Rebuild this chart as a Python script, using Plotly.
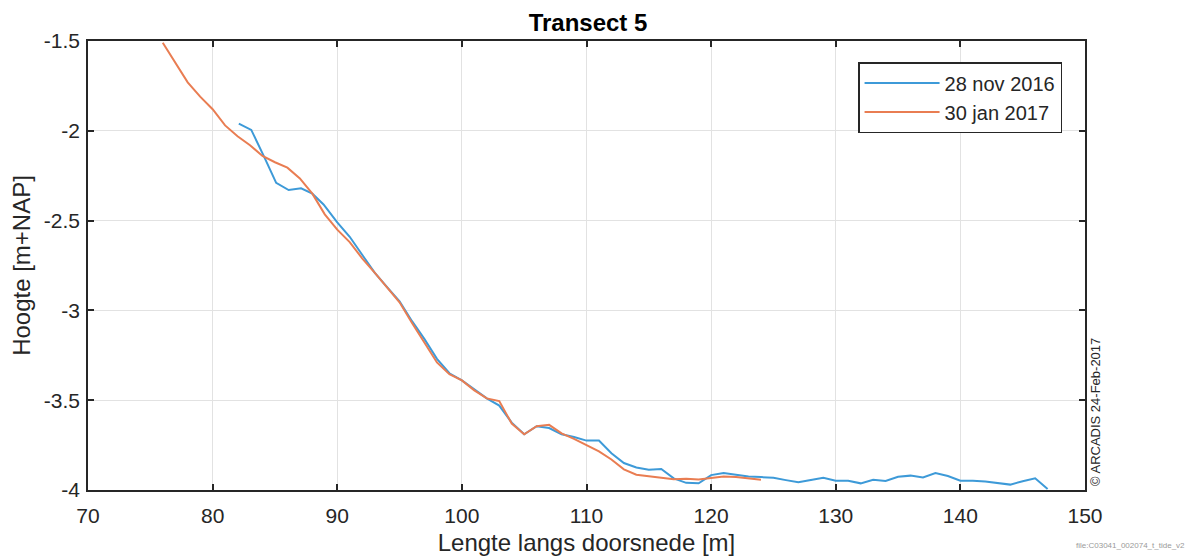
import plotly.graph_objects as go

# ---- data ----
nov_label = "28 nov 2016"
nov_x = [82.1, 83.1, 84.1, 85.1, 86.1, 87.1, 88.0, 88.9, 90.0, 91.0, 92.0, 93.0, 94.0, 95.0,
         96.0, 97.0, 98.0, 99.0, 100.0, 101.0, 102.0, 103.0, 104.0, 105.0, 106.0, 107.0,
         108.0, 109.0, 110.0, 111.0, 112.0, 113.0, 114.0, 115.0, 116.0, 117.0, 118.0, 119.0,
         120.0, 121.0, 122.0, 123.0, 124.0, 125.0, 126.0, 127.0, 128.0, 129.0, 130.0, 131.0,
         132.0, 133.0, 134.0, 135.0, 136.0, 137.0, 138.0, 139.0, 140.0, 141.0, 142.0, 143.0,
         144.0, 145.0, 146.0, 147.0]
nov_y = [-1.96, -1.995, -2.14, -2.29, -2.33, -2.32, -2.35, -2.41, -2.51, -2.59, -2.69, -2.79,
         -2.87, -2.95, -3.06, -3.16, -3.27, -3.35, -3.39, -3.44, -3.49, -3.53, -3.625, -3.69,
         -3.645, -3.655, -3.69, -3.705, -3.725, -3.725, -3.795, -3.85, -3.875, -3.887, -3.883,
         -3.935, -3.96, -3.963, -3.917, -3.906, -3.915, -3.925, -3.928, -3.932, -3.945, -3.957,
         -3.944, -3.932, -3.948, -3.948, -3.963, -3.943, -3.95, -3.926, -3.92, -3.93, -3.906,
         -3.922, -3.948, -3.948, -3.953, -3.96, -3.97, -3.951, -3.935, -3.995]

jan_label = "30 jan 2017"
jan_x = [76.0, 77.0, 78.0, 79.0, 80.0, 81.0, 82.0, 83.0, 84.0, 85.0, 86.0, 87.0, 88.0, 89.0,
         90.0, 91.0, 92.0, 93.0, 94.0, 95.0, 96.0, 97.0, 98.0, 99.0, 100.0, 101.0, 102.0,
         103.0, 104.0, 105.0, 106.0, 107.0, 108.0, 109.0, 110.0, 111.0, 112.0, 113.0, 114.0,
         115.0, 116.0, 117.0, 118.0, 119.0, 120.0, 121.0, 122.0, 123.0, 124.0]
jan_y = [-1.51, -1.62, -1.73, -1.81, -1.88, -1.97, -2.03, -2.08, -2.14, -2.175, -2.205, -2.265,
         -2.35, -2.465, -2.55, -2.62, -2.71, -2.79, -2.87, -2.955, -3.07, -3.18, -3.29, -3.355,
         -3.39, -3.445, -3.49, -3.505, -3.63, -3.69, -3.645, -3.637, -3.685, -3.715, -3.75,
         -3.785, -3.83, -3.885, -3.915, -3.925, -3.932, -3.94, -3.937, -3.942, -3.933, -3.925,
         -3.928, -3.937, -3.943]

x_tick_vals = [70, 80, 90, 100, 110, 120, 130, 140, 150]
x_tick_text = ["70", "80", "90", "100", "110", "120", "130", "140", "150"]
y_tick_vals = [-1.5, -2, -2.5, -3, -3.5, -4]
y_tick_text = ["-1.5", "-2", "-2.5", "-3", "-3.5", "-4"]

title_text = "Transect 5"
x_title = "Lengte langs doorsnede [m]"
y_title = "Hoogte [m+NAP]"
stamp_text = "© ARCADIS 24-Feb-2017"
file_text = "file:C03041_002074_t_tide_v2"

FONT = "Liberation Sans, Arial, sans-serif"
DARK = "#262626"
BLUE = "#3d9ad8"
ORANGE = "#e97d52"

fig = go.Figure()
fig.add_trace(go.Scatter(x=nov_x, y=nov_y, mode="lines", name=nov_label,
                         line=dict(color=BLUE, width=2)))
fig.add_trace(go.Scatter(x=jan_x, y=jan_y, mode="lines", name=jan_label,
                         line=dict(color=ORANGE, width=2)))

axis_common = dict(showline=True, linecolor=DARK, linewidth=1.5, mirror="ticks",
                   ticks="inside", ticklen=6, tickcolor=DARK, tickwidth=1.5,
                   showgrid=True, gridcolor="#e2e2e2", gridwidth=1, zeroline=False,
                   tickfont=dict(family=FONT, size=21, color=DARK))

fig.update_xaxes(range=[70, 150], tickmode="array", tickvals=x_tick_vals,
                 ticktext=x_tick_text, ticklabelstandoff=6,
                 title=dict(text=x_title, font=dict(family=FONT, size=24, color=DARK),
                            standoff=8),
                 **axis_common)
fig.update_yaxes(range=[-4, -1.5], tickmode="array", tickvals=y_tick_vals,
                 ticktext=y_tick_text, ticklabelstandoff=2,
                 title=dict(text=y_title, font=dict(family=FONT, size=24, color=DARK),
                            standoff=9),
                 **axis_common)

# the page body adds an 8 px offset, so the figure is sized/margined to compensate
fig.update_layout(
    width=1190, height=551,
    margin=dict(l=80, r=113, t=33, b=69, autoexpand=False),
    paper_bgcolor="white", plot_bgcolor="white",
    title=dict(text="<b>" + title_text + "</b>", x=(588 - 8) / 1190, xanchor="center",
               y=1 - 15 / 551, yanchor="middle", yref="container",
               font=dict(family=FONT, size=24, color="black")),
    legend=dict(x=0.977, y=0.953, xanchor="right", yanchor="top",
                bordercolor=DARK, borderwidth=1.5, bgcolor="white",
                font=dict(family=FONT, size=20, color=DARK),
                itemwidth=75, tracegroupgap=0),
    showlegend=True,
    annotations=[
        dict(text=stamp_text, xref="paper", yref="paper", x=1.0, y=0.0,
             xshift=10, yshift=2, xanchor="center", yanchor="bottom", textangle=-90,
             showarrow=False, font=dict(family=FONT, size=13, color=DARK)),
        dict(text=file_text, xref="paper", yref="paper", x=1.0, y=0.0,
             xshift=102, yshift=-55, xanchor="right", yanchor="middle",
             showarrow=False, font=dict(family=FONT, size=8, color="#9a9a9a")),
    ],
)

fig.write_html("out.html")
